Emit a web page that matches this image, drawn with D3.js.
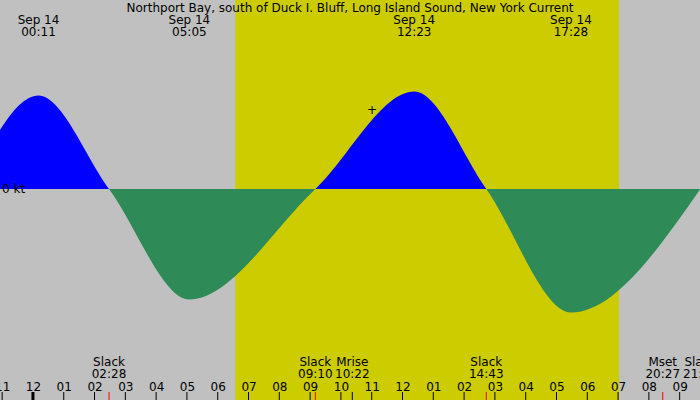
<!DOCTYPE html>
<html><head><meta charset="utf-8">
<script src="https://cdn.jsdelivr.net/npm/d3@7"></script>
<style>body{margin:0}text{font-family:"DejaVu Sans",sans-serif;font-size:12px}</style>
</head><body>
<svg id="c" width="700" height="400"></svg>
<script>
// events in hours since midnight Sep 14, speed in kt
const eventHours = [-2.1, 0.18, 2.47, 5.08, 9.17, 12.38, 14.72, 17.47, 21.67];
const eventSpeeds = [0, 0.72, 0, -0.85, 0, 0.75, 0, -0.95, 0];
const peakLabels = [["Sep 14", "00:11", 0.18], ["Sep 14", "05:05", 5.08], ["Sep 14", "12:23", 12.38], ["Sep 14", "17:28", 17.47]];
const bottomLabels = [["Slack", "02:28", 2.47], ["Slack", "09:10", 9.17], ["Mrise", "10:22", 10.37], ["Slack", "14:43", 14.72], ["Mset", "20:27", 20.45], ["Slack", "21:40", 21.67]];
const redTicks = [2.47, 9.17, 14.72, 20.45];
const daylight = [6.57, 19.03];
const hourLabels = ["11","12","01","02","03","04","05","06","07","08","09","10","11","12","01","02","03","04","05","06","07","08","09"];

const W = 700, H = 400;
const svg = d3.select('#c');
const x = d3.scaleLinear().domain([-1.07, 21.66]).range([0, W]);
const y = d3.scaleLinear().domain([-1.623, 1.454]).range([H, 0]);

svg.append('rect').attr('width', W).attr('height', H).attr('fill', '#c0c0c0');
svg.append('rect').attr('x', x(daylight[0])).attr('width', x(daylight[1]) - x(daylight[0]))
    .attr('height', H).attr('fill', '#cccc00');

const pts = eventHours.map((h, i) => [h, eventSpeeds[i]]);
const area = d3.area().x(d => x(d[0])).y0(y(0)).y1(d => y(d[1])).curve(d3.curveMonotoneX);

const defs = svg.append('defs');
defs.append('clipPath').attr('id', 'up').append('rect').attr('width', W).attr('height', y(0));
defs.append('clipPath').attr('id', 'dn').append('rect').attr('y', y(0)).attr('width', W).attr('height', H - y(0));
svg.append('path').datum(pts).attr('d', area).attr('fill', '#0000ff').attr('clip-path', 'url(#up)');
svg.append('path').datum(pts).attr('d', area).attr('fill', '#2e8b57').attr('clip-path', 'url(#dn)');

svg.append('text').attr('x', 2).attr('y', y(0) + 4).text('0 kt');
svg.append('text').attr('x', 372).attr('y', 114).attr('text-anchor', 'middle').text('+');

svg.append('text').attr('x', 350).attr('y', 12).attr('text-anchor', 'middle')
    .text('Northport Bay, south of Duck I. Bluff, Long Island Sound, New York Current');

peakLabels.forEach(d => {
    const t = svg.append('text').attr('text-anchor', 'middle');
    t.append('tspan').attr('x', x(d[2])).attr('y', 24).text(d[0]);
    t.append('tspan').attr('x', x(d[2])).attr('y', 36).text(d[1]);
});
bottomLabels.forEach(d => {
    const t = svg.append('text').attr('text-anchor', 'middle');
    t.append('tspan').attr('x', x(d[2])).attr('y', 366).text(d[0]);
    t.append('tspan').attr('x', x(d[2])).attr('y', 378).text(d[1]);
});

// hour axis
const hours = d3.range(-1, 22);
const axis = d3.axisBottom(x).tickValues(hours).tickSize(0).tickFormat((d, i) => hourLabels[i]);
const ax = svg.append('g').attr('transform', 'translate(0,381)').call(axis);
ax.select('.domain').remove();
ax.selectAll('text').attr('font-size', 12).attr('font-family', '"DejaVu Sans",sans-serif').attr('fill', '#000').attr('dy', 0).attr('y', 10);
svg.selectAll('.hr').data(hours).enter().append('line')
    .attr('x1', d => x(d)).attr('x2', d => x(d)).attr('y1', 392).attr('y2', H)
    .attr('stroke', '#000').attr('stroke-width', d => d === 0 ? 3 : 1);
svg.selectAll('.rt').data(redTicks).enter().append('line')
    .attr('x1', d => x(d)).attr('x2', d => x(d)).attr('y1', 392).attr('y2', H)
    .attr('stroke', 'red');
svg.append('line').attr('x1', x(10.37)).attr('x2', x(10.37)).attr('y1', 392).attr('y2', H).attr('stroke', '#000');
</script>
</body></html>
